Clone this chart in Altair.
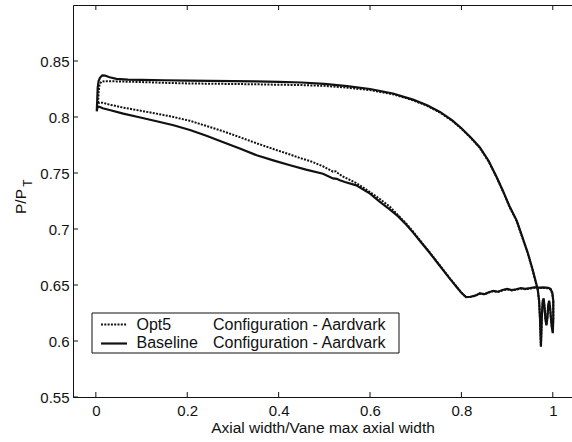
import altair as alt
import pandas as pd

# ---------------- data ----------------
# Baseline (solid): suction side LE->TE, trailing-edge wiggles, pressure side TE->LE
base_x = [0.002, 0.003, 0.004, 0.006, 0.009, 0.014, 0.020, 0.030, 0.045, 0.07,
          0.10, 0.15, 0.20, 0.25, 0.30, 0.35, 0.40, 0.45, 0.50, 0.55,
          0.60, 0.65, 0.694, 0.725, 0.753, 0.78, 0.80, 0.82, 0.84, 0.86,
          0.877, 0.891, 0.905, 0.921, 0.934, 0.945, 0.955, 0.962, 0.967, 0.970,
          0.972, 0.974,
          0.976, 0.978, 0.980, 0.982, 0.984, 0.986, 0.988, 0.990, 0.992, 0.994,
          0.996, 0.998, 1.000,
          1.001, 1.001, 0.999, 0.995, 0.990,
          0.980, 0.970, 0.960, 0.950, 0.940, 0.930, 0.920, 0.910, 0.900, 0.890,
          0.880, 0.870, 0.860, 0.850, 0.840, 0.830, 0.820, 0.810, 0.800, 0.790,
          0.775, 0.753, 0.730, 0.709, 0.694, 0.680, 0.661, 0.643, 0.621, 0.600,
          0.570, 0.545, 0.534, 0.527, 0.519, 0.497, 0.460, 0.425, 0.390, 0.352,
          0.315, 0.279, 0.242, 0.206, 0.170, 0.133, 0.095, 0.060, 0.030, 0.015,
          0.009, 0.004, 0.002]
base_y = [0.805, 0.815, 0.826, 0.832, 0.835, 0.8372, 0.837, 0.8355, 0.834, 0.8333,
          0.8332, 0.8328, 0.8325, 0.8322, 0.8320, 0.8318, 0.8313, 0.8308, 0.8295, 0.8275,
          0.8250, 0.8210, 0.8155, 0.8105, 0.8045, 0.7970, 0.7900, 0.7820, 0.7730, 0.7605,
          0.7465, 0.7340, 0.7205, 0.7075, 0.6920, 0.6790, 0.6650, 0.6540, 0.6460, 0.6360,
          0.6200, 0.5950,
          0.622, 0.636, 0.638, 0.630, 0.619, 0.614, 0.620, 0.632, 0.636, 0.630,
          0.620, 0.612, 0.607,
          0.620, 0.636, 0.643, 0.6465, 0.6475,
          0.6478, 0.6476, 0.6480, 0.6472, 0.6465, 0.6472, 0.6462, 0.6455, 0.6465, 0.6455,
          0.6440, 0.6448, 0.6435, 0.6418, 0.6425, 0.6405, 0.6395, 0.6392, 0.6430, 0.6480,
          0.6555, 0.6670, 0.6790, 0.6895, 0.6970, 0.7035, 0.7115, 0.7175, 0.7244, 0.7316,
          0.7390, 0.7420, 0.7435, 0.7448, 0.7452, 0.7494, 0.7530, 0.7569, 0.7610, 0.7658,
          0.7718, 0.7774, 0.7832, 0.7884, 0.7926, 0.7962, 0.7998, 0.8030, 0.8062, 0.8078,
          0.8089, 0.8095, 0.8050]

# Opt5 (dotted)
opt_x = [0.005, 0.006, 0.008, 0.012, 0.020, 0.045, 0.10, 0.15, 0.20, 0.25,
         0.30, 0.35, 0.40, 0.45, 0.50, 0.55, 0.60, 0.65, 0.694, 0.725,
         0.753, 0.78, 0.80, 0.82, 0.84, 0.86, 0.877, 0.891, 0.905, 0.921,
         0.934, 0.945, 0.955, 0.962, 0.967, 0.970, 0.972, 0.974,
         0.976, 0.978, 0.980, 0.982, 0.984, 0.986, 0.988, 0.990, 0.992, 0.994,
         0.996, 0.998, 1.000,
         1.001, 1.001, 0.999, 0.995, 0.990,
         0.980, 0.970, 0.960, 0.950, 0.940, 0.930, 0.920, 0.910, 0.900, 0.890,
         0.880, 0.870, 0.860, 0.850, 0.840, 0.830, 0.820, 0.810, 0.800, 0.790,
         0.775, 0.753, 0.730, 0.709, 0.694, 0.680, 0.661, 0.643, 0.621, 0.600,
         0.570, 0.540, 0.530, 0.525, 0.519, 0.497, 0.470, 0.446, 0.425, 0.390,
         0.352, 0.315, 0.279, 0.242, 0.206, 0.170, 0.133, 0.095, 0.060, 0.030,
         0.015, 0.005]
opt_y = [0.8125, 0.822, 0.829, 0.8315, 0.8320, 0.8318, 0.8312, 0.8305, 0.8300, 0.8297,
         0.8295, 0.8292, 0.8288, 0.8285, 0.8278, 0.8262, 0.8240, 0.8203, 0.8150, 0.8100,
         0.8040, 0.7965, 0.7895, 0.7815, 0.7725, 0.7600, 0.7460, 0.7335, 0.7200, 0.7070,
         0.6915, 0.6785, 0.6645, 0.6535, 0.6455, 0.6355, 0.6195, 0.5955,
         0.622, 0.635, 0.637, 0.629, 0.619, 0.615, 0.621, 0.631, 0.635, 0.629,
         0.620, 0.612, 0.608,
         0.620, 0.635, 0.642, 0.6460, 0.6470,
         0.6474, 0.6472, 0.6476, 0.6468, 0.6462, 0.6469, 0.6458, 0.6452, 0.6462, 0.6452,
         0.6437, 0.6445, 0.6432, 0.6416, 0.6423, 0.6403, 0.6394, 0.6392, 0.6432, 0.6482,
         0.6558, 0.6675, 0.6795, 0.6900, 0.6978, 0.7045, 0.7125, 0.7200, 0.7270, 0.7330,
         0.7410, 0.7470, 0.7498, 0.7515, 0.7512, 0.7560, 0.7605, 0.7635, 0.7665, 0.7712,
         0.7765, 0.7820, 0.7872, 0.7920, 0.7966, 0.8000, 0.8030, 0.8058, 0.8084, 0.8110,
         0.8128, 0.8125]

x_ticks = [0, 0.2, 0.4, 0.6, 0.8, 1.0]
y_ticks = [0.55, 0.6, 0.65, 0.7, 0.75, 0.8, 0.85]
legend_names = ["Opt5", "Baseline"]
legend_config = "Configuration - Aardvark"

# ---------------- chart ----------------
FONT = "Liberation Sans"
INK = "#111"
W, H = 499, 392

df_base = pd.DataFrame({"x": base_x, "y": base_y, "i": range(len(base_x))})
df_opt = pd.DataFrame({"x": opt_x, "y": opt_y, "i": range(len(opt_x))})

xscale = alt.Scale(domain=[-0.05, 1.042], nice=False, zero=False)
yscale = alt.Scale(domain=[0.55, 0.9], nice=False, zero=False)

X = alt.X("x:Q", scale=xscale, axis=alt.Axis(
    values=x_ticks, format="~g", title="Axial width/Vane max axial width",
    tickSize=0, labelPadding=6, grid=False, domain=False,
    labelFontSize=15, titleFontSize=15.5, titleFontWeight="normal",
    labelFont=FONT, titleFont=FONT, labelColor=INK, titleColor=INK,
    titlePadding=2))
Y = alt.Y("y:Q", scale=yscale, axis=alt.Axis(
    values=y_ticks, format="~g", title="P/P",
    tickSize=0, labelPadding=4, grid=False, domain=False,
    labelFontSize=15, titleFontSize=15.5, titleFontWeight="normal",
    labelFont=FONT, titleFont=FONT, labelColor=INK, titleColor=INK,
    titleAngle=270, titleX=-48, titleY=196, titleAlign="center",
    titleBaseline="alphabetic"))

Xp = alt.X("x:Q", scale=xscale)
Yp = alt.Y("y:Q", scale=yscale)

solid = alt.Chart(df_base).mark_line(color=INK, strokeWidth=2.2, clip=True).encode(
    x=X, y=Y, order="i:Q")
dotted = alt.Chart(df_opt).mark_line(color=INK, strokeWidth=2, strokeDash=[2, 1.3],
                                     clip=True).encode(x=Xp, y=Yp, order="i:Q")

xt = pd.DataFrame({"x": x_ticks})
yt = pd.DataFrame({"y": y_ticks})
tick_bottom = alt.Chart(xt).mark_rule(color=INK).encode(
    x=Xp, y=alt.value(H), y2=alt.value(H - 5))
tick_top = alt.Chart(xt).mark_rule(color=INK).encode(
    x=Xp, y=alt.value(0), y2=alt.value(5))
tick_left = alt.Chart(yt).mark_rule(color=INK).encode(
    y=Yp, x=alt.value(0), x2=alt.value(5))

sub_t = alt.Chart(pd.DataFrame({"t": ["T"]})).mark_text(
    angle=270, fontSize=12, font=FONT, color=INK, baseline="alphabetic",
    align="center").encode(x=alt.value(-41), y=alt.value(178), text="t:N")

# legend (drawn inside the plot, bottom-left)
leg_box = alt.Chart(pd.DataFrame({"a": [0]})).mark_rect(
    fill="white", stroke=INK, strokeWidth=1).encode(
    x=alt.value(19), x2=alt.value(326), y=alt.value(308), y2=alt.value(348))
leg_l1 = alt.Chart(pd.DataFrame({"a": [0]})).mark_rule(
    color=INK, strokeWidth=2, strokeDash=[2, 1.3]).encode(
    x=alt.value(28), x2=alt.value(54), y=alt.value(319.5))
leg_l2 = alt.Chart(pd.DataFrame({"a": [0]})).mark_rule(
    color=INK, strokeWidth=2.2).encode(
    x=alt.value(28), x2=alt.value(54), y=alt.value(338.5))
leg_t1 = alt.Chart(pd.DataFrame({"t": [legend_names[0]]})).mark_text(
    fontSize=16, font=FONT, color=INK, align="left", baseline="middle").encode(
    x=alt.value(63.5), y=alt.value(320), text="t:N")
leg_t2 = alt.Chart(pd.DataFrame({"t": [legend_names[1]]})).mark_text(
    fontSize=16, font=FONT, color=INK, align="left", baseline="middle").encode(
    x=alt.value(63.5), y=alt.value(338), text="t:N")
leg_c1 = alt.Chart(pd.DataFrame({"t": [legend_config]})).mark_text(
    fontSize=16, font=FONT, color=INK, align="left", baseline="middle").encode(
    x=alt.value(140), y=alt.value(320), text="t:N")
leg_c2 = alt.Chart(pd.DataFrame({"t": [legend_config]})).mark_text(
    fontSize=16, font=FONT, color=INK, align="left", baseline="middle").encode(
    x=alt.value(140), y=alt.value(338), text="t:N")

chart = alt.layer(
    solid, dotted, tick_bottom, tick_top, tick_left, sub_t,
    leg_box, leg_l1, leg_l2, leg_t1, leg_t2, leg_c1, leg_c2
).properties(
    width=W, height=H,
    autosize=alt.AutoSizeParams(type="none"),
    padding={"left": 73, "top": 5, "right": 0, "bottom": 45},
    background="white",
).configure_view(stroke=INK, strokeWidth=1)

chart.save("out.html", embed_options={"renderer": "svg", "actions": False})
